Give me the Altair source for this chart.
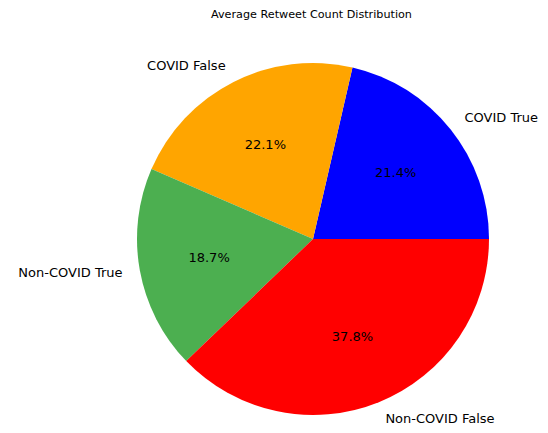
import math
import altair as alt
import pandas as pd

# Data (matplotlib pie, counter-clockwise from 3 o'clock)
labels = ["COVID True", "COVID False", "Non-COVID True", "Non-COVID False"]
shares = [21.4, 22.1, 18.7, 37.8]
colors = ["#0000ff", "#ffa500", "#4caf50", "#ff0000"]
title_text = "Average Retweet Count Distribution"

# derive label alignment (left-aligned on the right half, like matplotlib)
total = sum(shares)
cum = 0.0
aligns = []
for s in shares:
    mid = (cum + s / 2.0) / total
    aligns.append("left" if math.cos(2 * math.pi * mid) > 0 else "right")
    cum += s

df = pd.DataFrame({"label": labels, "share": shares, "idx": list(range(len(labels))), "al": aligns})

CX, CY = 305, 216
R = 176
FONT = "DejaVu Sans"

base = alt.Chart(df).encode(
    theta=alt.Theta("share:Q", stack=True,
                    scale=alt.Scale(range=[math.pi / 2, math.pi / 2 + 2 * math.pi])),
    order=alt.Order("idx:Q", sort="descending"),
    x=alt.value(CX),
    y=alt.value(CY),
)

pie = base.mark_arc(outerRadius=R).encode(
    color=alt.Color("label:N", scale=alt.Scale(domain=labels, range=colors), legend=None)
)

lab_left = base.transform_calculate(
    t="datum.al == 'left' ? datum.label : ''"
).mark_text(radius=R * 1.1, align="left", baseline="middle", fontSize=13,
            font=FONT, color="black").encode(text="t:N", detail="label:N")

lab_right = base.transform_calculate(
    t="datum.al == 'right' ? datum.label : ''"
).mark_text(radius=R * 1.1, align="right", baseline="middle", fontSize=13,
            font=FONT, color="black").encode(text="t:N", detail="label:N")

pct = base.transform_calculate(
    p="format(datum.share, '.1f') + '%'"
).mark_text(radius=R * 0.6, align="center", baseline="middle", fontSize=13,
            font=FONT, color="black").encode(text="p:N", detail="label:N")

chart = alt.layer(pie, lab_left, lab_right, pct).properties(
    width=532,
    height=417,
    padding=0,
    autosize=alt.AutoSizeParams(type="fit", contains="padding"),
    title=alt.TitleParams(title_text, anchor="start", dx=203, fontSize=11.2,
                          font=FONT, fontWeight="normal", color="black", offset=3),
).configure_view(stroke=None)

chart.save("out.html", embed_options={"renderer": "svg", "actions": False})
